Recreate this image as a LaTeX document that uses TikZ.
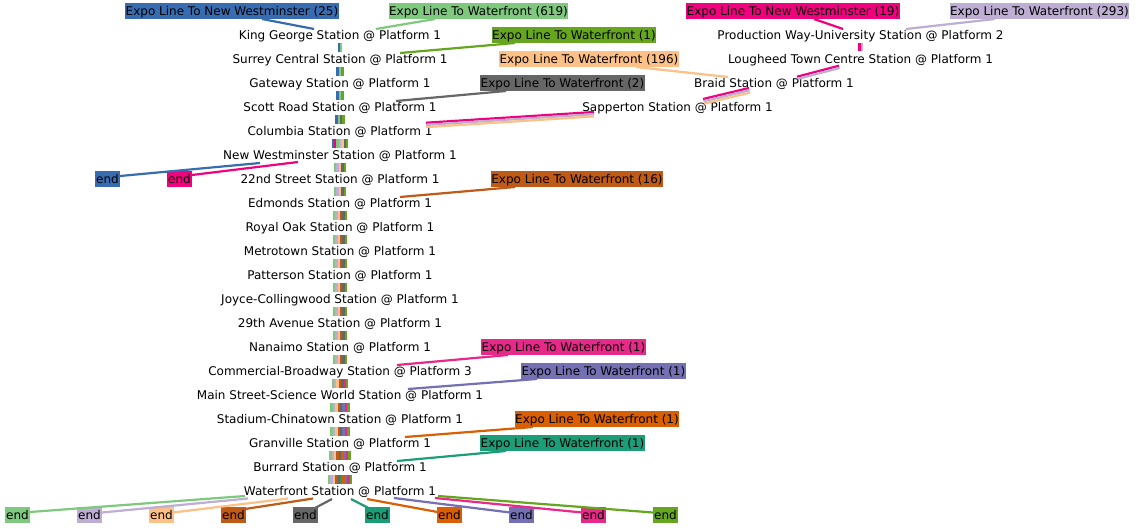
\documentclass[tikz,border=0pt]{standalone}
\usepackage{fontspec}
\setmainfont{DejaVu Sans}
\usetikzlibrary{calc}
\definecolor{blueA}{HTML}{386CB0}
\definecolor{greenA}{HTML}{7FC97F}
\definecolor{lavA}{HTML}{BEAED4}
\definecolor{peachA}{HTML}{FDC086}
\definecolor{pinkA}{HTML}{F0027F}
\definecolor{brownA}{HTML}{BF5B17}
\definecolor{grayA}{HTML}{666666}
\definecolor{tealD}{HTML}{1B9E77}
\definecolor{orangeD}{HTML}{D95F02}
\definecolor{purpleD}{HTML}{7570B3}
\definecolor{pinkD}{HTML}{E7298A}
\definecolor{greenD}{HTML}{66A61E}
\begin{document}
\begin{tikzpicture}[x=1pt,y=-1pt,
  every node/.style={font=\fontsize{12}{14}\selectfont, text height=10.8pt, text depth=2.2pt},
  stn/.style={inner xsep=1pt, inner ysep=1pt},
  lbl/.style={inner xsep=0.5pt, inner ysep=1.5pt},
  endbox/.style={inner xsep=1.2pt, inner ysep=1.5pt},
  ln/.style={line width=2.2pt},
  bar/.style={line width=2.4pt}]
\fill[white] (0,0) rectangle (1136,528);
\useasboundingbox (0,0) rectangle (1136,528);

% stations main column
\node[stn] (s0) at (340,35) {King George Station @ Platform 1};
\node[stn] (s1) at (340,59) {Surrey Central Station @ Platform 1};
\node[stn] (s2) at (340,83) {Gateway Station @ Platform 1};
\node[stn] (s3) at (340,107) {Scott Road Station @ Platform 1};
\node[stn] (s4) at (340,131) {Columbia Station @ Platform 1};
\node[stn] (s5) at (340,155) {New Westminster Station @ Platform 1};
\node[stn] (s6) at (340,179) {22nd Street Station @ Platform 1};
\node[stn] (s7) at (340,203) {Edmonds Station @ Platform 1};
\node[stn] (s8) at (340,227) {Royal Oak Station @ Platform 1};
\node[stn] (s9) at (340,251) {Metrotown Station @ Platform 1};
\node[stn] (s10) at (340,275) {Patterson Station @ Platform 1};
\node[stn] (s11) at (340,299) {Joyce-Collingwood Station @ Platform 1};
\node[stn] (s12) at (340,323) {29th Avenue Station @ Platform 1};
\node[stn] (s13) at (340,347) {Nanaimo Station @ Platform 1};
\node[stn] (s14) at (340,371) {Commercial-Broadway Station @ Platform 3};
\node[stn] (s15) at (340,395) {Main Street-Science World Station @ Platform 1};
\node[stn] (s16) at (340,419) {Stadium-Chinatown Station @ Platform 1};
\node[stn] (s17) at (340,443) {Granville Station @ Platform 1};
\node[stn] (s18) at (340,467) {Burrard Station @ Platform 1};
\node[stn] (s19) at (340,491) {Waterfront Station @ Platform 1};
% right branch
\node[stn] (PW) at (860.5,35) {Production Way-University Station @ Platform 2};
\node[stn] (LT) at (860.5,59) {Lougheed Town Centre Station @ Platform 1};
\node[stn] (BR) at (774,83) {Braid Station @ Platform 1};
\node[stn] (SA) at (677.5,107) {Sapperton Station @ Platform 1};

% line labels
\node[lbl, fill=blueA] (L1) at (232,11) {Expo Line To New Westminster (25)};
\node[lbl, fill=greenA] (L2) at (478.5,11) {Expo Line To Waterfront (619)};
\node[lbl, fill=pinkA] (L3) at (793,11) {Expo Line To New Westminster (19)};
\node[lbl, fill=lavA] (L4) at (1039.5,11) {Expo Line To Waterfront (293)};
\node[lbl, fill=greenD] (L5) at (574,35) {Expo Line To Waterfront (1)};
\node[lbl, fill=peachA] (L6) at (589,59) {Expo Line To Waterfront (196)};
\node[lbl, fill=grayA] (L7) at (562.5,83) {Expo Line To Waterfront (2)};
\node[lbl, fill=brownA] (L8) at (577,179) {Expo Line To Waterfront (16)};
\node[lbl, fill=pinkD] (L9) at (563.5,347) {Expo Line To Waterfront (1)};
\node[lbl, fill=purpleD] (L10) at (603.5,371) {Expo Line To Waterfront (1)};
\node[lbl, fill=orangeD] (L11) at (597,419) {Expo Line To Waterfront (1)};
\node[lbl, fill=tealD] (L12) at (562.5,443) {Expo Line To Waterfront (1)};

% end nodes
\node[endbox, fill=blueA] (eb) at (107.5,179) {end};
\node[endbox, fill=pinkA] (ep) at (179.5,179) {end};
\node[endbox, fill=greenA] (e1) at (17.5,515) {end};
\node[endbox, fill=lavA] (e2) at (89.5,515) {end};
\node[endbox, fill=peachA] (e3) at (161.5,515) {end};
\node[endbox, fill=brownA] (e4) at (233.5,515) {end};
\node[endbox, fill=grayA] (e5) at (305.5,515) {end};
\node[endbox, fill=tealD] (e6) at (377.5,515) {end};
\node[endbox, fill=orangeD] (e7) at (449.5,515) {end};
\node[endbox, fill=purpleD] (e8) at (521.5,515) {end};
\node[endbox, fill=pinkD] (e9) at (593.5,515) {end};
\node[endbox, fill=greenD] (e10) at (665.5,515) {end};

% label -> first station
\draw[ln, blueA] ($(L1.center)+(30,8)$) -- ($(s0.center)+(-26,-6)$);
\draw[ln, greenA] ($(L2.center)+(-43.5,8)$) -- ($(s0.center)+(36,-6)$);
\draw[ln, pinkA] ($(L3.center)+(21,8)$) -- ($(PW.center)+(-17.5,-6)$);
\draw[ln, lavA] ($(L4.center)+(-44.5,8)$) -- ($(PW.center)+(45.5,-6)$);
\draw[ln, greenD] ($(L5.center)+(-59,8)$) -- ($(s1.center)+(60,-6)$);
\draw[ln, peachA] ($(L6.center)+(47,8)$) -- ($(BR.center)+(-46,-6)$);
\draw[ln, grayA] ($(L7.center)+(-56.5,8)$) -- ($(s3.center)+(56,-6)$);
\draw[ln, brownA] ($(L8.center)+(-62,8)$) -- ($(s7.center)+(60,-6)$);
\draw[ln, pinkD] ($(L9.center)+(-55.5,8)$) -- ($(s14.center)+(57,-6)$);
\draw[ln, purpleD] ($(L10.center)+(-66.5,8)$) -- ($(s15.center)+(68,-6)$);
\draw[ln, orangeD] ($(L11.center)+(-64,8)$) -- ($(s17.center)+(65,-6)$);
\draw[ln, tealD] ($(L12.center)+(-56.5,8)$) -- ($(s18.center)+(57,-6)$);

% right branch segments
\draw[bar, pinkA] ([xshift=-1.2pt]PW.south) -- ([xshift=-1.2pt]LT.north);
\draw[bar, lavA] ([xshift=1.2pt]PW.south) -- ([xshift=1.2pt]LT.north);
\draw[ln, pinkA] ($(LT.center)+(-21.5,6.7)$) -- ($(BR.center)+(23,-6.3)$);
\draw[ln, lavA] ($(LT.center)+(-20.9,9)$) -- ($(BR.center)+(23.6,-4)$);
\draw[ln, pinkA] ($(BR.center)+(-25,5)$) -- ($(SA.center)+(25.5,-8)$);
\draw[ln, lavA] ($(BR.center)+(-24.45,7.3)$) -- ($(SA.center)+(26.05,-5.7)$);
\draw[ln, peachA] ($(BR.center)+(-23.9,9.6)$) -- ($(SA.center)+(26.6,-3.4)$);
\draw[ln, pinkA] ($(SA.center)+(-83.5,5)$) -- ($(s4.center)+(86,-8.3)$);
\draw[ln, lavA] ($(SA.center)+(-83.4,7.2)$) -- ($(s4.center)+(86.1,-6.1)$);
\draw[ln, peachA] ($(SA.center)+(-83.3,9.4)$) -- ($(s4.center)+(86.2,-3.9)$);

% main column bundles
\foreach \a/\b/\n/\cols in {
  s0/s1/2/{blueA,greenA},
  s1/s2/3/{blueA,greenA,greenD},
  s2/s3/3/{blueA,greenA,greenD},
  s3/s4/4/{blueA,greenA,grayA,greenD},
  s4/s5/7/{blueA,pinkA,greenA,lavA,peachA,grayA,greenD},
  s5/s6/5/{greenA,lavA,peachA,grayA,greenD},
  s6/s7/5/{greenA,lavA,peachA,grayA,greenD},
  s7/s8/6/{greenA,lavA,peachA,brownA,grayA,greenD},
  s8/s9/6/{greenA,lavA,peachA,brownA,grayA,greenD},
  s9/s10/6/{greenA,lavA,peachA,brownA,grayA,greenD},
  s10/s11/6/{greenA,lavA,peachA,brownA,grayA,greenD},
  s11/s12/6/{greenA,lavA,peachA,brownA,grayA,greenD},
  s12/s13/6/{greenA,lavA,peachA,brownA,grayA,greenD},
  s13/s14/6/{greenA,lavA,peachA,brownA,grayA,greenD},
  s14/s15/7/{greenA,lavA,peachA,brownA,grayA,pinkD,greenD},
  s15/s16/8/{greenA,lavA,peachA,brownA,grayA,purpleD,pinkD,greenD},
  s16/s17/8/{greenA,lavA,peachA,brownA,grayA,purpleD,pinkD,greenD},
  s17/s18/9/{greenA,lavA,peachA,brownA,grayA,orangeD,purpleD,pinkD,greenD},
  s18/s19/10/{greenA,lavA,peachA,brownA,grayA,tealD,orangeD,purpleD,pinkD,greenD}}{
  \foreach \c [count=\k] in \cols {
    \pgfmathsetmacro\off{(\k-(\n+1)/2)*2.4}
    \draw[bar,\c] ([xshift=\off pt,yshift=-0.5pt]\a.south) -- ([xshift=\off pt,yshift=-0.5pt]\b.north);
  }
}

% New Westminster -> ends
\draw[ln, blueA] ($(s5.center)+(-80,8)$) -- ($(eb.center)+(12.5,-3)$);
\draw[ln, pinkA] ($(s5.center)+(-42,7)$) -- ($(ep.center)+(12.5,-4)$);

% Waterfront -> ends
\draw[ln, greenA] ($(s19.center)+(-95,5)$) -- ($(e1.center)+(12.5,-3)$);
\draw[ln, lavA] ($(s19.center)+(-92,7.5)$) -- ($(e2.center)+(12.5,-2.5)$);
\draw[ln, peachA] ($(s19.center)+(-52,7.5)$) -- ($(e3.center)+(11.5,-2.5)$);
\draw[ln, brownA] ($(s19.center)+(-27,7.5)$) -- ($(e4.center)+(11.5,-6)$);
\draw[ln, grayA] ($(s19.center)+(-8,8)$) -- ($(e5.center)+(9.5,-7)$);
\draw[ln, tealD] ($(s19.center)+(11,8)$) -- ($(e6.center)+(-9,-7)$);
\draw[ln, orangeD] ($(s19.center)+(27,8)$) -- ($(e7.center)+(-12,-3)$);
\draw[ln, purpleD] ($(s19.center)+(54,7)$) -- ($(e8.center)+(-11.5,-2.5)$);
\draw[ln, pinkD] ($(s19.center)+(95,7)$) -- ($(e9.center)+(-11.5,-2.5)$);
\draw[ln, greenD] ($(s19.center)+(98,5)$) -- ($(e10.center)+(-12.5,-2.5)$);
\end{tikzpicture}
\end{document}
